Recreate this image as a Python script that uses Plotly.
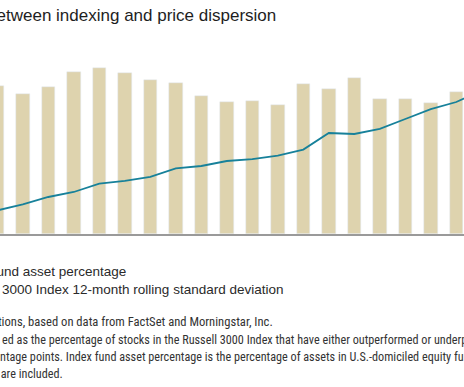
import plotly.graph_objects as go

# Data read from the (cropped) reference chart
years = list(range(1998, 2018))
dispersion = [59.2, 56.0, 58.9, 64.8, 66.4, 64.4, 61.5, 60.5, 55.3, 52.7,
              53.3, 51.5, 59.9, 58.1, 62.4, 54.0, 54.0, 52.4, 56.7, 55.0]
index_share = [5.9, 7.4, 9.25, 10.5, 12.6, 13.3, 14.3, 16.4, 17.0, 18.25,
               18.7, 19.6, 21.1, 25.25, 25.0, 26.3, 28.75, 31.2, 33.0, 35.9]

title_text = "Figure 3. Relationship between indexing and price dispersion"
legend_1 = "Index fund asset percentage"
legend_2 = "Russel<span style='color:#17819a'>l</span> 3000 Index 12-month rolling standard deviation"
source_text = "Source: Vanguard calculations, based on data from FactSet and Morningstar, Inc."
note_2 = "ed as the percentage of stocks in the Russell 3000 Index that have either outperformed or underperformed"
note_3 = "ntage points. Index fund asset percentage is the percentage of assets in U.S.-domiciled equity funds"
note_4 = "Notes: Only funds with assets are included."

BAR = "#ded3ae"
LINE = "#17819a"
W, H = 464, 387
TOP, BOT = 34, 234

fig = go.Figure()
fig.add_trace(go.Bar(x=years, y=dispersion, marker_color=BAR, width=0.53,
                     name="Price dispersion", yaxis="y", showlegend=False))
fig.add_trace(go.Scatter(x=years, y=index_share, mode="lines",
                         line=dict(color=LINE, width=1.8),
                         name="Index fund asset percentage", yaxis="y2", showlegend=False))

def py(p):
    return (BOT - p) / (BOT - TOP)

def px(p):
    return p / W

x0 = years[0] + 2.7 / 25.5
x1 = years[0] + (W + 2.7) / 25.5

ann = []
ann.append(dict(text=title_text, x=px(277), y=py(15), xanchor="right", yanchor="middle",
                font=dict(family="Liberation Sans, Arial", size=17, color="#1e1e1e")))
ann.append(dict(text=legend_1, x=px(127.5), y=py(271), xanchor="right", yanchor="middle",
                font=dict(family="Liberation Sans, Arial", size=13.5, color="#2a2a2a")))
ann.append(dict(text=legend_2, x=px(284), y=py(289.5), xanchor="right", yanchor="middle",
                font=dict(family="Liberation Sans, Arial", size=13.5, color="#2a2a2a")))
nfont = dict(family="Roboto Condensed, Liberation Sans", size=12.2, color="#333333")
sfont = dict(family="Roboto Condensed, Liberation Sans", size=12.6, color="#333333")
ann.append(dict(text=source_text, x=px(274), y=py(321), xanchor="right", yanchor="middle", font=sfont))
ann.append(dict(text=note_2, x=px(1), y=py(340), xanchor="left", yanchor="middle", font=nfont))
ann.append(dict(text=note_3, x=px(-1), y=py(357), xanchor="left", yanchor="middle", font=nfont))
ann.append(dict(text=note_4, x=px(64), y=py(374), xanchor="right", yanchor="middle", font=nfont))
for a in ann:
    a.update(xref="paper", yref="paper", showarrow=False, borderpad=0)

fig.update_layout(
    width=W, height=H,
    margin=dict(l=0, r=0, t=TOP, b=H - BOT, pad=0),
    paper_bgcolor="white", plot_bgcolor="white",
    bargap=0,
    xaxis=dict(range=[x0, x1], showgrid=False, zeroline=False, showticklabels=False,
               ticks="", showline=True, linecolor="#9a9a9a", linewidth=1.5),
    yaxis=dict(range=[0, 80], showgrid=False, zeroline=False, showticklabels=False, ticks=""),
    yaxis2=dict(range=[0, 50], overlaying="y", side="right", showgrid=False, zeroline=False,
                showticklabels=False, ticks=""),
    annotations=ann,
    showlegend=False,
)

fig.write_html("out.html", config={"displayModeBar": False},
               post_script="document.body.style.margin='0';document.body.style.overflow='hidden';")
